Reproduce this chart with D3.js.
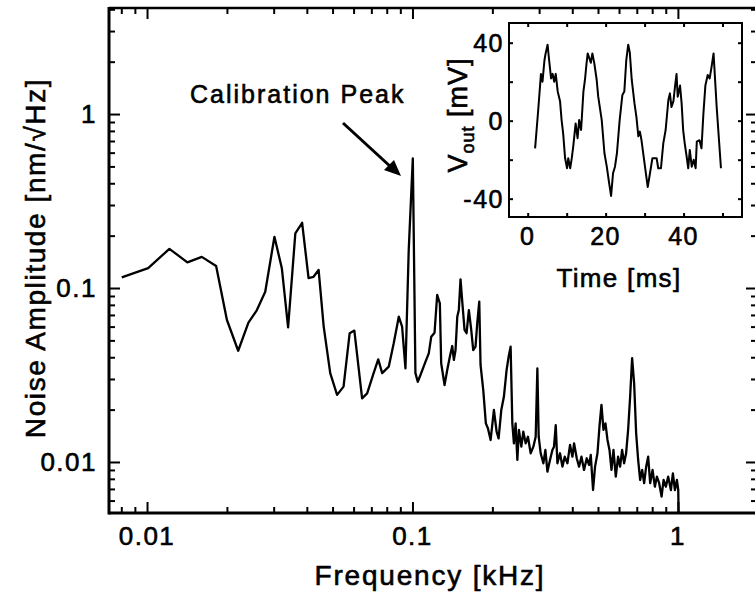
<!DOCTYPE html>
<html>
<head>
<meta charset="utf-8">
<script src="https://cdn.jsdelivr.net/npm/d3@7"></script>
<style>
  body { margin: 0; background: #fff; }
  svg { display: block; font-family: "Liberation Sans", Arial, Helvetica, sans-serif; }
  svg text { stroke: #000; stroke-width: 0.6px; }
</style>
</head>
<body>
<svg width="755" height="593"></svg>
<script>
// noise spectrum (kHz, nm/sqrt(Hz))
var freq = [0.00803, 0.0101, 0.01214, 0.01419, 0.01608, 0.01821, 0.0200, 0.02205, 0.0241, 0.02594,
  0.02788, 0.0302, 0.0322, 0.0340, 0.0362, 0.0384, 0.0406, 0.0424, 0.0443, 0.0463,
  0.0490, 0.0520, 0.0550, 0.0580, 0.0604, 0.0646, 0.0675, 0.0714, 0.0743, 0.0769,
  0.0814, 0.085, 0.0888, 0.0914, 0.0941, 0.0968, 0.1003, 0.1026, 0.1047, 0.1072,
  0.1120, 0.1152, 0.1177, 0.1211, 0.1239, 0.1268, 0.1283, 0.1321, 0.1352, 0.1383,
  0.1412, 0.1432, 0.1453, 0.1475, 0.1495, 0.1517, 0.1544, 0.1571, 0.1599, 0.1631,
  0.1665, 0.1694, 0.1728, 0.1754, 0.1785, 0.1805, 0.1848, 0.189, 0.1924, 0.197,
  0.2027, 0.2075, 0.2111, 0.2161, 0.221, 0.2263, 0.2303, 0.2343, 0.2378, 0.2411,
  0.2447, 0.2484, 0.2518, 0.2571, 0.2616, 0.2669, 0.2723, 0.2788, 0.2854, 0.2912,
  0.2955, 0.2989, 0.3041, 0.3113, 0.3168, 0.3224, 0.3297, 0.3367, 0.3414, 0.3465,
  0.3516, 0.3596, 0.3672, 0.3746, 0.3835, 0.3923, 0.4006, 0.4062, 0.4158, 0.4242,
  0.4331, 0.4430, 0.4535, 0.4627, 0.4696, 0.479, 0.4874, 0.4977, 0.5064, 0.5152,
  0.5243, 0.5335, 0.5429, 0.5524, 0.5620, 0.5719, 0.5834, 0.5952, 0.6057, 0.6163,
  0.6271, 0.6381, 0.6493, 0.6607, 0.6722, 0.6841, 0.6961, 0.7083, 0.7207, 0.7334,
  0.7462, 0.7593, 0.7726, 0.7862, 0.8026, 0.8189, 0.8333, 0.8500, 0.8680, 0.8831,
  0.9009, 0.9192, 0.9410, 0.9575, 0.9743, 0.9913, 1.003, 1.006];
var amp = [0.115, 0.130, 0.168, 0.1405, 0.151, 0.134, 0.0655, 0.0436, 0.0632, 0.0747,
  0.0952, 0.197, 0.130, 0.0594, 0.206, 0.237, 0.114, 0.116, 0.127, 0.060,
  0.0324, 0.0243, 0.0271, 0.0550, 0.0569, 0.0232, 0.0248, 0.0324, 0.0389, 0.0324,
  0.0353, 0.0481, 0.0684, 0.0599, 0.0345, 0.165, 0.556, 0.0324, 0.0289, 0.0316,
  0.0377, 0.0421, 0.0525, 0.0553, 0.0912, 0.0817, 0.0369, 0.0277, 0.0338, 0.0403,
  0.0464, 0.0386, 0.0440, 0.0684, 0.0747, 0.1122, 0.0798, 0.0574, 0.0550, 0.0747,
  0.0574, 0.0440, 0.0460, 0.0627, 0.0835, 0.0361, 0.0259, 0.01668, 0.01563, 0.01338,
  0.0199, 0.01493, 0.01368, 0.0199, 0.0237, 0.0338, 0.0403, 0.0460, 0.01668, 0.0128,
  0.01668, 0.01027, 0.01528, 0.01225, 0.01493, 0.0128, 0.01397, 0.01122, 0.01225, 0.01397,
  0.0345, 0.01397, 0.01122, 0.00983, 0.01172, 0.0088, 0.01027, 0.01172, 0.01225, 0.0163,
  0.00983, 0.01122, 0.0094, 0.01073, 0.00983, 0.01253, 0.01073, 0.0128, 0.0105, 0.0094,
  0.01073, 0.0090, 0.0105, 0.00961, 0.01097, 0.0069, 0.0094, 0.01122, 0.01595, 0.0213,
  0.01528, 0.01668, 0.01338, 0.01172, 0.0090, 0.01172, 0.00824, 0.01073, 0.0094, 0.01172,
  0.00983, 0.01122, 0.01528, 0.0237, 0.0395, 0.0283, 0.01462, 0.01027, 0.00788, 0.0090,
  0.00755, 0.0094, 0.01073, 0.00755, 0.0090, 0.00721, 0.00824, 0.00755, 0.00632, 0.00788,
  0.00721, 0.00824, 0.0069, 0.00861, 0.0069, 0.00788, 0.0069, 0.0051];

// inset time trace (ms, mV)
var timeMs = [1.9, 2.7, 3.4, 3.8, 4.3, 4.6, 5.1, 5.5, 6.0, 6.4, 6.8, 7.2, 7.7, 8.3, 8.7, 9.1,
  9.6, 10.1, 10.4, 10.9, 11.3, 11.7, 12.3, 12.8, 13.2, 13.7, 14.3, 14.7, 15.1, 15.4, 16.2, 16.6,
  17.1, 17.7, 18.1, 19.0, 19.7, 20.3, 20.9, 21.4, 21.9, 22.4, 22.9, 23.6, 24.3, 24.8, 25.3, 25.8,
  26.2, 26.7, 27.4, 27.9, 28.4, 28.8, 29.2, 30.1, 30.8, 31.3, 32.0, 33.1, 33.5, 34.2, 34.8, 35.4,
  36.1, 36.5, 36.9, 37.4, 37.8, 38.2, 38.5, 39.1, 39.5, 39.9, 40.3, 40.8, 41.2, 41.6, 42.1, 42.6,
  43.1, 43.4, 44.1, 44.6, 45.1, 45.6, 46.2, 46.7, 47.2, 47.7, 48.5, 49.6];
var vout = [-14.2, 5.5, 24, 20, 31, 34.5, 39, 31, 21.7, 24, 20, 24, 15, 10, 0.3, -6.5,
  -19.3, -24.4, -19.3, -24.4, -19.3, -13, -1.4, -9, 0.3, -4.8, 15, 21, 29.4, 34.5, 29.7, 34.5,
  29.4, 21, 12.3, 0.3, -16.7, -23.6, -32, -38.6, -27, -23.6, -16.7, 0.3, 13.2, 15, 31, 39,
  35, 21, 9, 2, -8, -5.6, -10, -23.6, -34, -28, -19.3, -19.3, -24.4, -24.4, -11.6, -4.8,
  10.6, 14, 7, 10, 17.4, 24, 12.3, 18, 9, -4.8, -11.6, -18.5, -24.4, -15, -23.6, -20,
  -24.4, -10.8, -10, -14.2, 3.8, 18, 23.4, 21.7, 27.7, 34.5, 7, -24.4];

var xTickVals = [0.01, 0.1, 1];
var xTickLabels = ['0.01', '0.1', '1'];
var yTickVals = [0.01, 0.1, 1];
var yTickLabels = ['0.01', '0.1', '1'];
var insetXTicks = [0, 20, 40];
var insetYTicks = [-40, 0, 40];

var svgctrl = d3.select('svg');

// main axes (px edges of the frame)
var pl = 109, pr = 757, pt = 8, pb = 513;
var x = d3.scaleLog().domain([0.00719, 1.986]).range([pl, pr]);
var y = d3.scaleLog().domain([0.00509, 4.07]).range([pb, pt]);

// minor + major ticks, pointing inward on all four sides
var xMinor = [], yMinor = [];
[0.001, 0.01, 0.1, 1].forEach(function (d) {
  for (var k = 2; k <= 9; k++) {
    var v = d * k;
    if (v > x.domain()[0] && v < x.domain()[1]) xMinor.push(v);
    if (v > y.domain()[0] && v < y.domain()[1]) yMinor.push(v);
  }
});

function tickGroup(ax, tr) {
  var g = svgctrl.append('g').attr('transform', tr).call(ax);
  g.select('.domain').remove();
  g.selectAll('.tick line').attr('stroke', '#000').attr('stroke-width', 2);
  return g;
}
tickGroup(d3.axisBottom(x).tickValues(xMinor).tickSize(-6).tickFormat(''), 'translate(0,' + pb + ')');
tickGroup(d3.axisBottom(x).tickValues(xTickVals).tickSize(-11).tickFormat(''), 'translate(0,' + pb + ')');
tickGroup(d3.axisTop(x).tickValues(xMinor).tickSize(-6).tickFormat(''), 'translate(0,' + pt + ')');
tickGroup(d3.axisTop(x).tickValues(xTickVals).tickSize(-11).tickFormat(''), 'translate(0,' + pt + ')');
tickGroup(d3.axisLeft(y).tickValues(yMinor).tickSize(-6).tickFormat(''), 'translate(' + pl + ',0)');
tickGroup(d3.axisLeft(y).tickValues(yTickVals).tickSize(-11).tickFormat(''), 'translate(' + pl + ',0)');
tickGroup(d3.axisRight(y).tickValues(yMinor).tickSize(-6).tickFormat(''), 'translate(' + pr + ',0)');
tickGroup(d3.axisRight(y).tickValues(yTickVals).tickSize(-11).tickFormat(''), 'translate(' + pr + ',0)');

// frame
svgctrl.append('line').attr('x1', pl).attr('y1', pt).attr('x2', pr).attr('y2', pt).attr('stroke', '#000').attr('stroke-width', 2.5);
svgctrl.append('line').attr('x1', pl).attr('y1', pb).attr('x2', pr).attr('y2', pb).attr('stroke', '#000').attr('stroke-width', 3);
svgctrl.append('line').attr('x1', pl).attr('y1', pt - 1).attr('x2', pl).attr('y2', pb + 1.5).attr('stroke', '#000').attr('stroke-width', 3);

// tick labels
svgctrl.selectAll('.xlab').data(xTickVals).enter().append('text')
  .attr('x', function (d) { return x(d); }).attr('y', 545)
  .attr('text-anchor', 'middle').attr('font-size', 26).style('letter-spacing', '1.5px')
  .text(function (d, i) { return xTickLabels[i]; });
svgctrl.selectAll('.ylab').data(yTickVals).enter().append('text')
  .attr('x', 97).attr('y', function (d) { return y(d) + 9; })
  .attr('text-anchor', 'end').attr('font-size', 26).style('letter-spacing', '1.5px')
  .text(function (d, i) { return yTickLabels[i]; });

// axis titles
svgctrl.append('text').attr('x', (pl + pr) / 2 - 3).attr('y', 585)
  .attr('text-anchor', 'middle').attr('font-size', 28).style('letter-spacing', '1.8px')
  .text('Frequency [kHz]');
svgctrl.append('text').attr('transform', 'translate(45,258) rotate(-90)')
  .attr('text-anchor', 'middle').attr('font-size', 28).style('letter-spacing', '1.6px')
  .text('Noise Amplitude [nm/\u221AHz]');

// spectrum
var line = d3.line().x(function (d) { return x(d[0]); }).y(function (d) { return y(d[1]); });
svgctrl.append('path').datum(d3.zip(freq, amp)).attr('d', line)
  .attr('fill', 'none').attr('stroke', '#000').attr('stroke-width', 2.3).attr('stroke-linejoin', 'round');

// calibration annotation
svgctrl.append('text').attr('x', 190).attr('y', 103).attr('font-size', 25).style('letter-spacing', '2px')
  .text('Calibration Peak');
svgctrl.append('line').attr('x1', 343).attr('y1', 123).attr('x2', 392).attr('y2', 168)
  .attr('stroke', '#000').attr('stroke-width', 3);
svgctrl.append('polygon').attr('points', '401,176 384,170 394,160').attr('fill', '#000');

// inset
var il = 509, ir = 742, it = 23, ib = 217;
var ix = d3.scaleLinear().domain([-4.8, 55]).range([il, ir]);
var iy = d3.scaleLinear().domain([-49.4, 50.1]).range([ib, it]);
svgctrl.append('rect').attr('x', il).attr('y', it).attr('width', ir - il).attr('height', ib - it)
  .attr('fill', '#fff').attr('stroke', '#000').attr('stroke-width', 2);

var ixt = [0, 10, 20, 30, 40, 50], iyt = [-40, -20, 0, 20, 40];
tickGroup(d3.axisBottom(ix).tickValues(ixt).tickSize(-4).tickFormat(''), 'translate(0,' + ib + ')');
tickGroup(d3.axisTop(ix).tickValues(ixt).tickSize(-4).tickFormat(''), 'translate(0,' + it + ')');
tickGroup(d3.axisLeft(iy).tickValues(iyt).tickSize(-4).tickFormat(''), 'translate(' + il + ',0)');
tickGroup(d3.axisRight(iy).tickValues(iyt).tickSize(-4).tickFormat(''), 'translate(' + ir + ',0)');

svgctrl.selectAll('.ixlab').data(insetXTicks).enter().append('text')
  .attr('x', function (d) { return ix(d); }).attr('y', 245)
  .attr('text-anchor', 'middle').attr('font-size', 25).style('letter-spacing', '1.5px')
  .text(function (d) { return d; });
svgctrl.selectAll('.iylab').data(insetYTicks).enter().append('text')
  .attr('x', 504).attr('y', function (d) { return iy(d) + 9; })
  .attr('text-anchor', 'end').attr('font-size', 25).style('letter-spacing', '1.5px')
  .text(function (d) { return d; });

svgctrl.append('text').attr('x', 619).attr('y', 287).attr('text-anchor', 'middle')
  .attr('font-size', 26).style('letter-spacing', '1.3px').text('Time [ms]');
var vl = svgctrl.append('text').attr('transform', 'translate(467,115) rotate(-90)')
  .attr('text-anchor', 'middle').attr('font-size', 27).style('letter-spacing', '1px');
vl.append('tspan').text('V');
vl.append('tspan').attr('font-size', 18).attr('dy', 7).text('out');
vl.append('tspan').attr('dy', -7).text(' [mV]');

var iline = d3.line().x(function (d) { return ix(d[0]); }).y(function (d) { return iy(d[1]); });
svgctrl.append('path').datum(d3.zip(timeMs, vout)).attr('d', iline)
  .attr('fill', 'none').attr('stroke', '#000').attr('stroke-width', 2).attr('stroke-linejoin', 'round');
</script>
</body>
</html>
